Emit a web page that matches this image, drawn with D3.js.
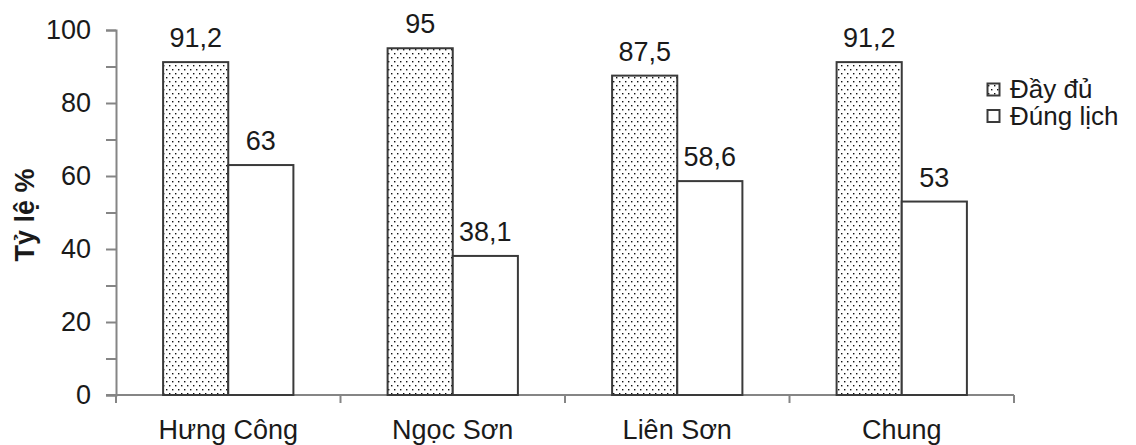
<!DOCTYPE html>
<html>
<head>
<meta charset="utf-8">
<script src="https://cdn.jsdelivr.net/npm/d3@7"></script>
<style>
  html, body { margin: 0; padding: 0; background: #fff; }
  svg { display: block; font-family: "Liberation Sans", Arial, sans-serif; }
</style>
</head>
<body>
<svg id="chart" width="1136" height="445"></svg>
<script>
// Communes surveyed and the two vaccination-rate series (%)
const categories = ["Hưng Công", "Ngọc Sơn", "Liên Sơn", "Chung"];
const seriesNames = ["Đầy đủ", "Đúng lịch"];
const dayDu = [91.2, 95, 87.5, 91.2];
const dungLich = [63, 38.1, 58.6, 53];
const valueLabels = [["91,2", "95", "87,5", "91,2"], ["63", "38,1", "58,6", "53"]];
const yTicks = [0, 20, 40, 60, 80, 100];

const series = [dayDu, dungLich];

const svg = d3.select("#chart");
const plotLeft = 116, plotRight = 1014, plotTop = 30, plotBottom = 395;
const fontSize = 27;
const textColor = "#1a1a1a";
const axisColor = "#858585";
const barStroke = "#3a3a3a";

// Dotted fill for the first series
const defs = svg.append("defs");
const pat = defs.append("pattern")
  .attr("id", "dots").attr("patternUnits", "userSpaceOnUse")
  .attr("width", 6).attr("height", 8);
pat.append("rect").attr("width", 6).attr("height", 8).attr("fill", "#fff");
pat.append("rect").attr("x", 1).attr("y", 1).attr("width", 1.4).attr("height", 1.4).attr("fill", "#111");
pat.append("rect").attr("x", 4).attr("y", 5).attr("width", 1.4).attr("height", 1.4).attr("fill", "#111");

const fills = ["url(#dots)", "#fff"];

const x = d3.scaleBand().domain(categories).range([plotLeft, plotRight]).paddingInner(0).paddingOuter(0);
const xInner = d3.scaleBand().domain([0, 1]).range([0, x.bandwidth()]).paddingInner(0).paddingOuter(47 / 65);
const y = d3.scaleLinear().domain([0, 100]).range([plotBottom, plotTop]);

// Y axis: labelled major ticks every 20, unlabelled minor ticks every 10
const yAxis = d3.axisLeft(y).tickValues(d3.range(0, 101, 10))
  .tickFormat(d => yTicks.includes(d) ? d : "").tickSize(10).tickPadding(15);
const gy = svg.append("g").attr("transform", `translate(${plotLeft},0)`).call(yAxis);
gy.select(".domain").attr("stroke", axisColor).attr("stroke-width", 2);
gy.selectAll(".tick line").attr("stroke", axisColor).attr("stroke-width", 2);
gy.selectAll(".tick text").attr("font-size", fontSize).attr("fill", textColor)
  .attr("font-family", "Liberation Sans, Arial, sans-serif");

// X axis with ticks at category boundaries
const gx = svg.append("g").attr("transform", `translate(0,${plotBottom})`);
gx.append("line").attr("x1", plotLeft - 10).attr("x2", plotRight).attr("y1", 0).attr("y2", 0)
  .attr("stroke", axisColor).attr("stroke-width", 2);
const bounds = categories.map(c => x(c)).concat([plotRight]);
gx.selectAll("line.tk").data(bounds).join("line").attr("class", "tk")
  .attr("x1", d => d).attr("x2", d => d).attr("y1", 0).attr("y2", 8)
  .attr("stroke", axisColor).attr("stroke-width", 2);
gx.selectAll("text").data(categories).join("text")
  .attr("x", d => x(d) + x.bandwidth() / 2).attr("y", 44)
  .attr("text-anchor", "middle").attr("font-size", fontSize).attr("fill", textColor)
  .text(d => d);

// Bars and value labels
series.forEach((vals, si) => {
  const g = svg.append("g");
  g.selectAll("rect").data(vals).join("rect")
    .attr("x", (d, i) => x(categories[i]) + xInner(si))
    .attr("y", d => y(d))
    .attr("width", xInner.bandwidth())
    .attr("height", d => y(0) - y(d))
    .attr("fill", fills[si])
    .attr("stroke", barStroke).attr("stroke-width", 2);
  g.selectAll("text").data(vals).join("text")
    .attr("x", (d, i) => x(categories[i]) + xInner(si) + xInner.bandwidth() / 2)
    .attr("y", d => y(d) - 15)
    .attr("text-anchor", "middle").attr("font-size", fontSize).attr("fill", textColor)
    .text((d, i) => valueLabels[si][i]);
});

// Y axis title
svg.append("text")
  .attr("transform", "translate(34,215) rotate(-90)")
  .attr("text-anchor", "middle").attr("font-size", fontSize).attr("font-weight", "bold")
  .attr("fill", textColor).text("Tỷ lệ %");

// Legend
const legend = svg.append("g");
const legY = [89.5, 116];
seriesNames.forEach((name, i) => {
  legend.append("rect").attr("x", 987.5).attr("y", legY[i] - 6).attr("width", 12).attr("height", 12)
    .attr("fill", fills[i]).attr("stroke", barStroke).attr("stroke-width", 2);
  legend.append("text").attr("x", 1010).attr("y", legY[i] + 8.5)
    .attr("font-size", 26).attr("fill", textColor).text(name);
});
</script>
</body>
</html>
